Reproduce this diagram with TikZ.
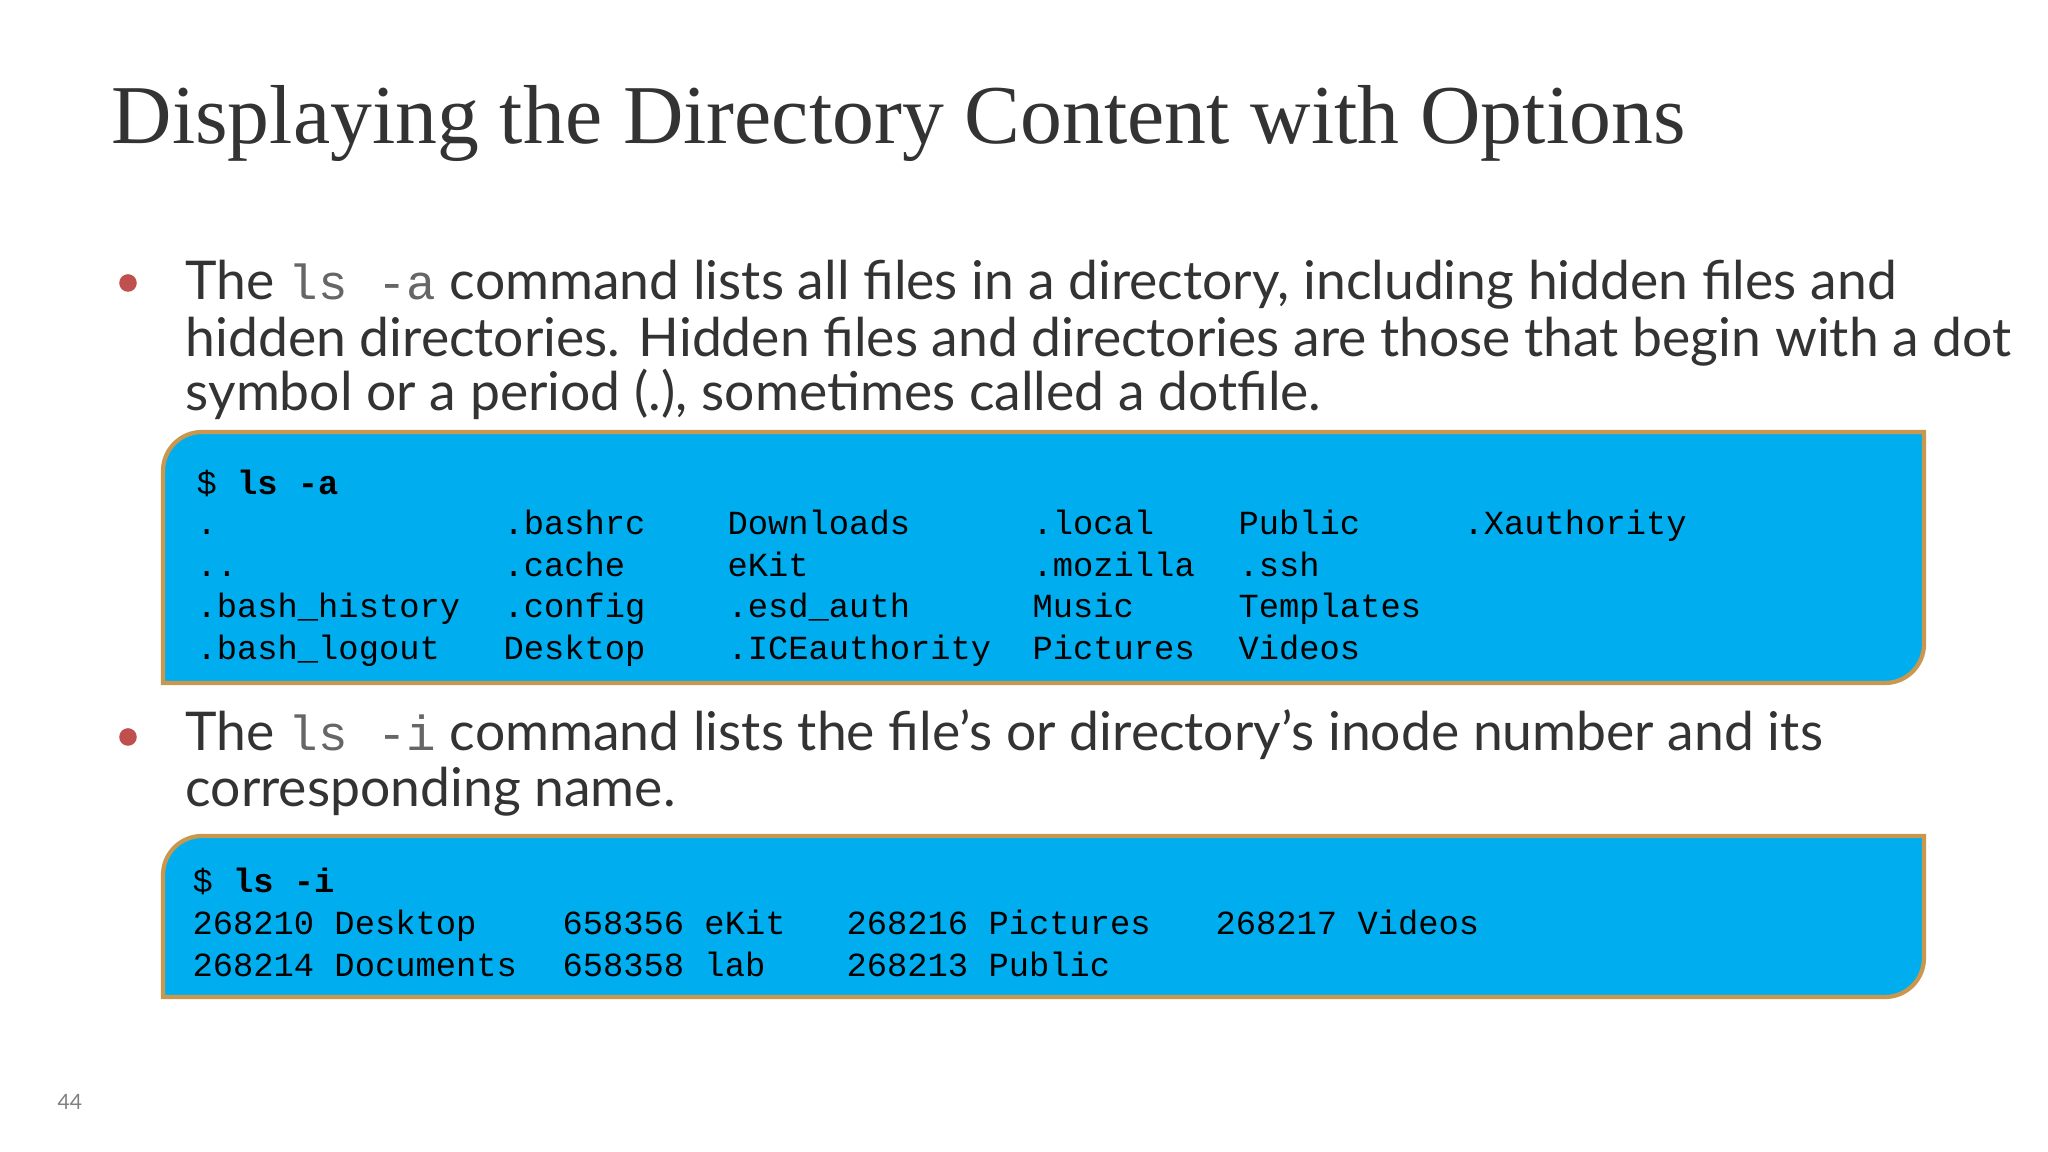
\documentclass[tikz,border=0pt]{standalone}
\usepackage{fontspec}
\setmainfont{Lato}
\newfontfamily\titlefont{Liberation Serif}
\setmonofont{Liberation Mono}
\definecolor{boxblue}{HTML}{00AEEF}
\definecolor{boxedge}{HTML}{C9974E}
\definecolor{txt}{HTML}{333333}
\definecolor{bul}{HTML}{C0504D}
\begin{document}
\begin{tikzpicture}[x=0.01cm,y=0.01cm,
  title/.style={anchor=base west,inner sep=0,font=\titlefont\fontsize{23.8}{23.8}\selectfont,text=txt},
  body/.style={anchor=base west,inner sep=0,font=\fontsize{15.2}{15.2}\selectfont,text=txt},
  code/.style={anchor=base west,inner sep=0,font=\ttfamily\fontsize{9.6}{9.6}\selectfont,text=black},
  termbox/.style={fill=boxblue,draw=boxedge,line width=1.2pt},
  bulletdot/.style={circle,fill=bul,inner sep=0,minimum size=5}]
\useasboundingbox (0,0) rectangle (2048,1152);
\fill[white] (0,0) rectangle (2048,1152);
\newcommand{\ic}[1]{{\ttfamily\color{txt!75}\fontsize{14}{14}\selectfont#1}}
\node[title] (t) at (111,1008) {Displaying the Directory Content with Options};
\node[bulletdot] (b1) at (128,869) {};
\node[body] (l1) at (185,852) {The \ic{ls -a} command lists all files in a directory, including hidden files and};
\node[body] (l2) at (185,795) {hidden directories. Hidden files and directories are those that begin with a dot};
\node[body] (l3) at (185,741) {symbol or a period (.), sometimes called a dotfile.};
\draw[termbox] (163,469) -- (163,681) arc(180:90:39) -- (1924,720) -- (1924,508) arc(0:-90:39) -- cycle;
\node[code] (c0) at (196,657) {\$ \textbf{ls -a}};
\foreach \x/\a/\b/\c/\d [count=\i] in {196/./../.bash\_history/.bash\_logout,
  503/.bashrc/.cache/.config/Desktop,
  727/Downloads/eKit/.esd\_auth/.ICEauthority,
  1032/.local/.mozilla/Music/Pictures,
  1238/Public/.ssh/Templates/Videos}{
  \node[code] (r1c\i) at (\x,617) {\a};
  \node[code] (r2c\i) at (\x,575) {\b};
  \node[code] (r3c\i) at (\x,534) {\c};
  \node[code] (r4c\i) at (\x,492) {\d};}
\node[code] (r1c6) at (1463,617) {.Xauthority};
\node[bulletdot] (b2) at (128,415) {};
\node[body] (m1) at (185,401) {The \ic{ls -i} command lists the file’s or directory’s inode number and its};
\node[body] (m2) at (185,345) {corresponding name.};
\draw[termbox] (163,155) -- (163,277) arc(180:90:39) -- (1924,316) -- (1924,194) arc(0:-90:39) -- cycle;
\node[code] (d0) at (192,259) {\$ \textbf{ls -i}};
\node[code] (d1) at (192,217) {268210 Desktop};
\node[code] (d2) at (192,175) {268214 Documents};
\node[code] (d3) at (562,217) {658356 eKit};
\node[code] (d4) at (562,175) {658358 lab};
\node[code] (d5) at (846,217) {268216 Pictures};
\node[code] (d6) at (846,175) {268213 Public};
\node[code] (d7) at (1215,217) {268217 Videos};
\node[anchor=base west,inner sep=0,font=\fontsize{6}{6}\selectfont,text=gray] (pg) at (57,42) {44};
\end{tikzpicture}
\end{document}
